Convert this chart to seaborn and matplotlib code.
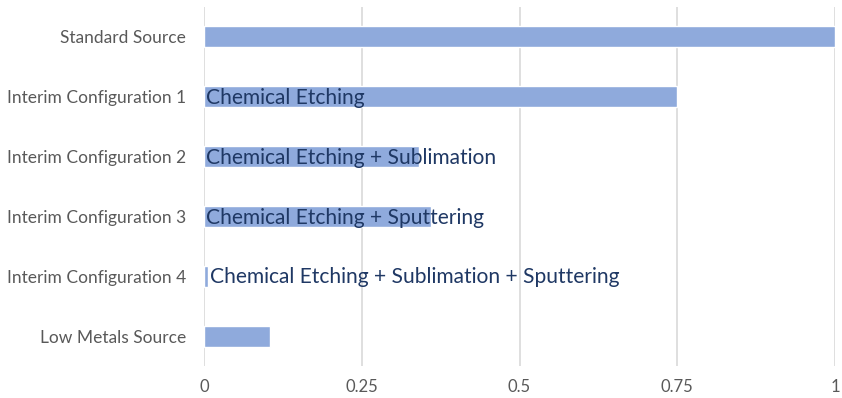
import matplotlib
matplotlib.use("Agg")
import matplotlib.pyplot as plt
import seaborn as sns
import pandas as pd

# chart data
categories = [
    "Standard Source",
    "Interim Configuration 1",
    "Interim Configuration 2",
    "Interim Configuration 3",
    "Interim Configuration 4",
    "Low Metals Source",
]
values = [1.0, 0.75, 0.34, 0.36, 0.007, 0.105]
bar_labels = [
    "",
    "Chemical Etching",
    "Chemical Etching + Sublimation",
    "Chemical Etching + Sputtering",
    "Chemical Etching + Sublimation + Sputtering",
    "",
]
x_ticks = [0, 0.25, 0.5, 0.75, 1]
x_tick_labels = ["0", "0.25", "0.5", "0.75", "1"]

df = pd.DataFrame({"category": categories, "value": values})

sns.set_style("white")
plt.rcParams["font.family"] = ["Lato", "DejaVu Sans"]

fig = plt.figure(figsize=(8.42, 3.98), dpi=100)
ax = fig.add_axes([0.2423, 0.0804, 0.7494, 0.902])

sns.barplot(data=df, x="value", y="category", color="#8FAADC",
            saturation=1, width=0.35, ax=ax, zorder=2)

ax.set_xlim(0, 1)
ax.set_ylim(5.5, -0.5)
ax.set_xticks(x_ticks)
ax.set_xticklabels(x_tick_labels)
ax.grid(axis="x", color="#D9D9D9", linewidth=1.2, zorder=0)
ax.set_axisbelow(True)
for s in ax.spines.values():
    s.set_visible(False)
ax.tick_params(axis="both", length=0, colors="#595959", labelsize=12.5)
ax.tick_params(axis="x", labelsize=12, pad=9)
ax.tick_params(axis="y", pad=13)
ax.set_xlabel("")
ax.set_ylabel("")

# data labels: at the base of the bar, or just past a very thin bar
for i, (v, lab) in enumerate(zip(values, bar_labels)):
    if not lab:
        continue
    x0 = v if v < 0.05 else 0
    ax.text(x0 + 0.003, i + 0.02, lab, ha="left", va="center",
            fontsize=15.1, color="#1F3864", zorder=3)

fig.savefig("out.png", dpi=100)
